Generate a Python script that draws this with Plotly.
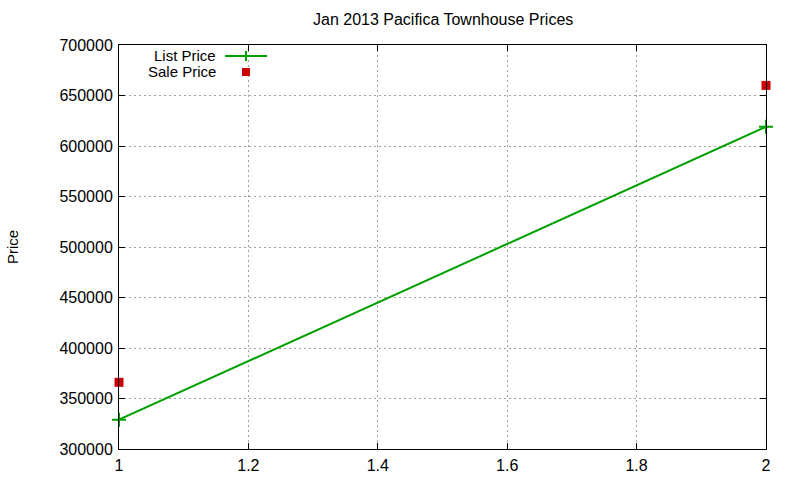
import plotly.graph_objects as go

title = 'Jan 2013 Pacifica Townhouse Prices'
x_vals = [1, 2]
list_price = [329000, 619000]
sale_price = [366000, 660000]
x_ticks = [1, 1.2, 1.4, 1.6, 1.8, 2]
y_ticks = [300000, 350000, 400000, 450000, 500000, 550000, 600000, 650000, 700000]

green = 'rgb(0,160,0)'
red = 'rgb(204,0,0)'
font = 'Liberation Sans, Arial, sans-serif'

# plot area in pixels, used to place the hand made key
L, R, T, B = 119, 766, 45, 449
W, H = R - L, B - T


def px(x):
    return (x - L) / W


def py(y):
    return (B - y) / H


fig = go.Figure()

fig.add_trace(go.Scatter(x=x_vals, y=list_price, mode='lines+markers',
    name='List Price',
    line=dict(color=green, width=2),
    marker=dict(symbol='cross-thin', size=10, line=dict(color=green, width=2)),
    cliponaxis=False,
))
fig.add_trace(go.Scatter(x=x_vals, y=sale_price, mode='markers',
    name='Sale Price',
    marker=dict(symbol='square', size=9, color=red),
    cliponaxis=False,
))

axis_style = dict(
    showline=True,
    mirror='allticks',
    linecolor='black',
    linewidth=1,
    ticks='inside',
    ticklen=6,
    tickcolor='black',
    showgrid=True,
    gridcolor='rgb(160,160,160)',
    griddash='2px,3px',
    gridwidth=1,
    zeroline=False,
    tickfont=dict(family=font, size=16, color='black'),
)

fig.update_layout(
    width=800, height=480,
    autosize=False,
    margin=dict(l=L, r=800 - R, t=T, b=480 - B, autoexpand=False),
    plot_bgcolor='white',
    paper_bgcolor='white',
    showlegend=False,
    xaxis=dict(range=[1, 2], tickvals=x_ticks, ticktext=[str(t) for t in x_ticks],
               ticklabelstandoff=2, **axis_style),
    yaxis=dict(range=[300000, 700000], tickvals=y_ticks, ticktext=[str(t) for t in y_ticks],
               ticklabelstandoff=2, **axis_style),
)

annotations = []
# Title
annotations.append(dict(xref='paper', yref='paper', x=0.5, y=py(20),
    xanchor='center', yanchor='middle', text=title, showarrow=False,
    font=dict(family=font, size=16, color='black')))
# y axis label
annotations.append(dict(xref='paper', yref='paper', x=px(12), y=py(247),
    xanchor='center', yanchor='middle', text='Price', textangle=-90, showarrow=False,
    font=dict(family=font, size=15, color='black')))
# key text, right aligned like gnuplot
annotations.append(dict(xref='paper', yref='paper', x=px(218), y=py(55),
    xanchor='right', yanchor='middle', text='List Price', showarrow=False,
    font=dict(family=font, size=15, color='black')))
annotations.append(dict(xref='paper', yref='paper', x=px(218), y=py(72),
    xanchor='right', yanchor='middle', text='Sale Price', showarrow=False,
    font=dict(family=font, size=15, color='black')))
fig.update_layout(annotations=annotations)

# key samples
shapes = [
    dict(type='line', xref='paper', yref='paper', x0=px(225), x1=px(267), y0=py(56), y1=py(56),
         line=dict(color=green, width=2)),
    dict(type='line', xref='paper', yref='paper', x0=px(246), x1=px(246), y0=py(51), y1=py(61),
         line=dict(color=green, width=2)),
    dict(type='rect', xref='paper', yref='paper', x0=px(242), x1=px(250), y0=py(68), y1=py(76),
         fillcolor=red, line=dict(width=0)),
]
fig.update_layout(shapes=shapes)

fig.write_html('out.html', config=dict(displayModeBar=False),
               post_script="document.body.style.margin='0';")
